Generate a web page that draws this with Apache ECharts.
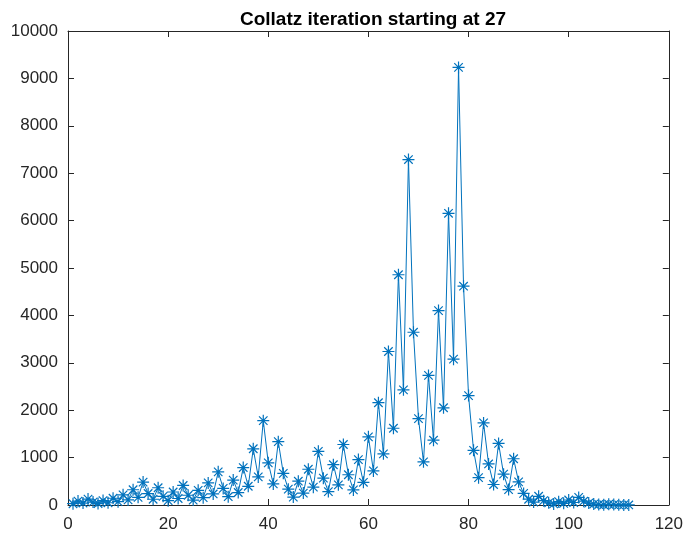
<!DOCTYPE html>
<html>
<head>
<meta charset="utf-8">
<script src="https://cdn.jsdelivr.net/npm/echarts@6/dist/echarts.min.js"></script>
<style>
  html, body { margin: 0; padding: 0; background: #fff; }
  #chart { width: 686px; height: 537px; }
</style>
</head>
<body>
<div id="chart"></div>
<script>
// Collatz sequence starting at 27 (step index starts at 1)
const collatzValues = [
  27, 82, 41, 124, 62, 31, 94, 47, 142, 71, 214, 107, 322, 161, 484, 242,
  121, 364, 182, 91, 274, 137, 412, 206, 103, 310, 155, 466, 233, 700, 350,
  175, 526, 263, 790, 395, 1186, 593, 1780, 890, 445, 1336, 668, 334, 167,
  502, 251, 754, 377, 1132, 566, 283, 850, 425, 1276, 638, 319, 958, 479,
  1438, 719, 2158, 1079, 3238, 1619, 4858, 2429, 7288, 3644, 1822, 911, 2734,
  1367, 4102, 2051, 6154, 3077, 9232, 4616, 2308, 1154, 577, 1732, 866, 433,
  1300, 650, 325, 976, 488, 244, 122, 61, 184, 92, 46, 23, 70, 35, 106, 53,
  160, 80, 40, 20, 10, 5, 16, 8, 4, 2, 1
];
const stepIndex = collatzValues.map((_, i) => i + 1);
const xTicks = [0, 20, 40, 60, 80, 100, 120];
const yTicks = [0, 1000, 2000, 3000, 4000, 5000, 6000, 7000, 8000, 9000, 10000];

const axisColor = '#262626';
const lineColor = '#0072BD';
const font = 'Liberation Sans, Arial, Helvetica, sans-serif';

const points = stepIndex.map((x, i) => [x, collatzValues[i]]);

// eight-armed asterisk marker
const asterisk = 'path://M0,-10L0,10M-10,0L10,0M-7.07,-7.07L7.07,7.07M-7.07,7.07L7.07,-7.07';

const chart = echarts.init(document.getElementById('chart'), null, { renderer: 'canvas' });

const plainNumber = v => String(v);

const baseX = {
  type: 'value', min: xTicks[0], max: xTicks[xTicks.length - 1], interval: 20,
  axisLine: { show: true, onZero: false, lineStyle: { color: axisColor, width: 1 } },
  axisTick: { show: true, inside: true, length: 6, lineStyle: { color: axisColor } },
  splitLine: { show: false }
};
const baseY = {
  type: 'value', min: yTicks[0], max: yTicks[yTicks.length - 1], interval: 1000,
  axisLine: { show: true, onZero: false, lineStyle: { color: axisColor, width: 1 } },
  axisTick: { show: true, inside: true, length: 6, lineStyle: { color: axisColor } },
  splitLine: { show: false }
};

chart.setOption({
  animation: false,
  backgroundColor: '#fff',
  title: {
    text: 'Collatz iteration starting at 27',
    left: 368, top: 5, textAlign: 'center',
    textStyle: { fontFamily: font, fontSize: 19, fontWeight: 'bold', color: '#000' }
  },
  grid: { left: 68, right: 15, top: 31, bottom: 32, containLabel: false },
  xAxis: [
    Object.assign({}, baseX, {
      position: 'bottom',
      axisLabel: { show: true, color: axisColor, fontFamily: font, fontSize: 17, margin: 11, formatter: plainNumber }
    }),
    Object.assign({}, baseX, { position: 'top', axisLabel: { show: false } })
  ],
  yAxis: [
    Object.assign({}, baseY, {
      position: 'left',
      axisLabel: { show: true, color: axisColor, fontFamily: font, fontSize: 17, margin: 10, formatter: plainNumber }
    }),
    Object.assign({}, baseY, { position: 'right', axisLabel: { show: false } })
  ],
  series: [{
    type: 'line',
    data: points,
    xAxisIndex: 0, yAxisIndex: 0,
    symbol: asterisk,
    symbolSize: 12,
    showAllSymbol: true,
    lineStyle: { color: lineColor, width: 1 },
    itemStyle: { color: 'rgba(0,0,0,0)', borderColor: lineColor, borderWidth: 1.2 },
    emphasis: { disabled: true }
  }]
});
</script>
</body>
</html>
